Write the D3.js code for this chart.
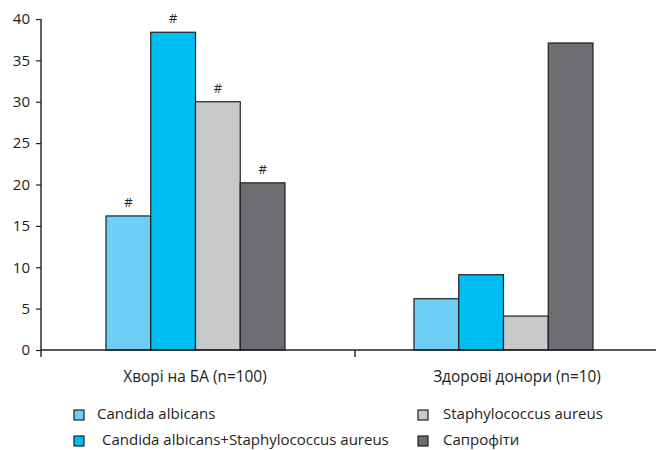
<!DOCTYPE html>
<html><head><meta charset="utf-8">
<script src="https://cdn.jsdelivr.net/npm/d3@7"></script>
<style>body{margin:0;background:#fff}text{font-family:"Open Sans","Noto Sans",sans-serif;fill:#231f20}</style>
</head><body><svg id="c" width="658" height="450"></svg>
<script>
const categories = ["Хворі на БА (n=100)", "Здорові донори (n=10)"];
const seriesNames = ["Candida albicans", "Candida albicans+Staphylococcus aureus", "Staphylococcus aureus", "Сапрофіти"];
const seriesColors = ["#6dcff6", "#00bdf2", "#c7c8ca", "#6d6e71"];
const valuesCA = [16.2, 6.2];
const valuesCASA = [38.4, 9.1];
const valuesSA = [30.0, 4.1];
const valuesSap = [20.2, 37.1];
const markers = [["#", "#", "#", "#"], ["", "", "", ""]];
const yTicks = [0, 5, 10, 15, 20, 25, 30, 35, 40];

(function () {
const series = [valuesCA, valuesCASA, valuesSA, valuesSap];
const svg = d3.select("#c");
const mLeft = 41, mTop = 19, mBottom = 350;
const x0 = d3.scaleBand().domain(categories).range([44, 660]).paddingInner(0).paddingOuter(0);
const inner = d3.scaleBand().domain(d3.range(4)).range([0, 179]);
const y = d3.scaleLinear().domain([0, 40]).range([mBottom, mTop]);

// bars
categories.forEach((c, ci) => {
  const gx = x0(c) + x0.bandwidth() / 2 - 92;
  series.forEach((s, si) => {
    svg.append("rect")
      .attr("x", gx + inner(si)).attr("y", y(s[ci]))
      .attr("width", inner.bandwidth()).attr("height", y(0) - y(s[ci]))
      .attr("fill", seriesColors[si]).attr("stroke", "#231f20").attr("stroke-width", 1.2);
    if (markers[ci][si]) {
      svg.append("text").attr("x", gx + inner(si) + inner.bandwidth() / 2).attr("y", y(s[ci]) - 9)
        .attr("text-anchor", "middle").attr("font-size", 13).text(markers[ci][si]);
    }
  });
});

// y axis
const ya = svg.append("g").attr("transform", `translate(${mLeft},0)`)
  .call(d3.axisLeft(y).tickValues(yTicks).tickSize(5).tickPadding(6));
ya.select(".domain").attr("d", `M0,${mTop}V${mBottom + 7}`).attr("stroke", "#231f20").attr("stroke-width", 1.4);
ya.selectAll(".tick line").attr("stroke", "#231f20").attr("stroke-width", 1.2);
ya.selectAll(".tick text").attr("font-size", 15).attr("font-family", "'Open Sans',sans-serif").attr("fill", "#231f20");

// x axis line
svg.append("line").attr("x1", mLeft).attr("x2", 656).attr("y1", mBottom).attr("y2", mBottom)
  .attr("stroke", "#231f20").attr("stroke-width", 1.4);
const midTick = x0(categories[1]) + 3;
svg.append("line").attr("x1", midTick).attr("x2", midTick).attr("y1", mBottom).attr("y2", mBottom + 7)
  .attr("stroke", "#231f20").attr("stroke-width", 1.4);

// category labels
const labelX = [195, 517];
categories.forEach((c, ci) => {
  svg.append("text").attr("x", labelX[ci]).attr("y", 382).attr("text-anchor", "middle")
    .attr("font-size", 15.4).text(c);
});

// legend
const legPos = [[74, 97, 419], [74, 102, 445], [418, 443, 419], [418, 443, 445]];
seriesNames.forEach((n, i) => {
  const [sx, tx, ly] = legPos[i];
  svg.append("rect").attr("x", sx).attr("y", ly - 9).attr("width", 10).attr("height", 10)
    .attr("fill", seriesColors[i]).attr("stroke", "#231f20").attr("stroke-width", 1.2);
  svg.append("text").attr("x", tx).attr("y", ly).attr("font-size", 15).text(n);
});
})();
</script></body></html>
